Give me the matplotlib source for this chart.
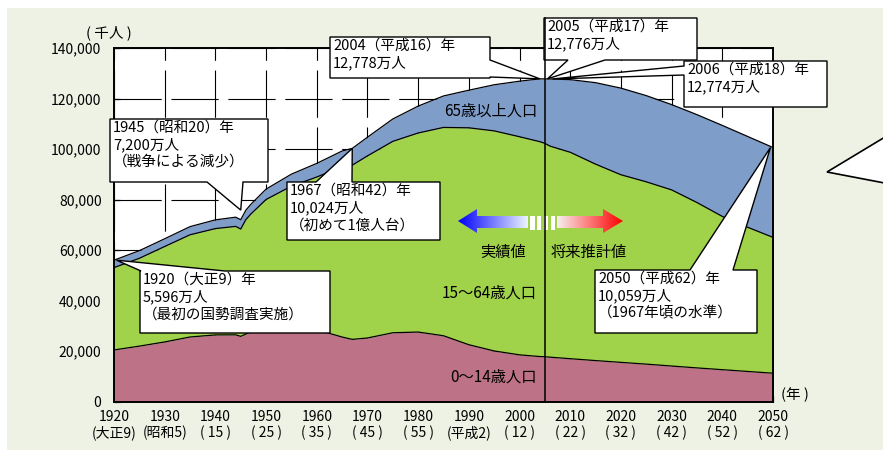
import numpy as np
import matplotlib
matplotlib.use('Agg')
import matplotlib.pyplot as plt
from matplotlib.patches import Polygon, Rectangle

plt.rcParams['font.family'] = ['Noto Sans CJK JP', 'DejaVu Sans']
plt.rcParams['lines.scale_dashes'] = False

# ---------------- data (thousands of people) ----------------
years = [1920, 1925, 1930, 1935, 1940, 1944, 1945, 1946, 1947, 1950, 1955, 1960,
         1965, 1967, 1970, 1975, 1980, 1985, 1990, 1995, 2000, 2004, 2005, 2006,
         2010, 2015, 2020, 2025, 2030, 2035, 2040, 2045, 2050]
pop_0_14 = [20416, 21924, 23579, 25545, 26369, 26400, 25800, 26700, 27573, 29786, 30123, 28434,
            25529, 24600, 25153, 27221, 27507, 26033, 22486, 20014, 18472, 17800, 17740, 17550,
            16950, 16200, 15500, 14800, 14050, 13300, 12600, 11900, 11200]
pop_15_64 = [32605, 34792, 37807, 40484, 42110, 42950, 42500, 45300, 46681, 50220, 55167, 60469,
             67444, 69003, 72119, 75807, 78835, 82506, 85904, 87165, 86380, 85100, 84500, 83600,
             81750, 77800, 74300, 72200, 69750, 65500, 60700, 57100, 53800]
pop_65_over = [2941, 3021, 3064, 3225, 3454, 3650, 3700, 3750, 3847, 4109, 4747, 5398,
               6236, 6640, 7393, 8865, 10647, 12468, 14895, 18261, 22005, 24887, 25520, 26590,
               28773, 32266, 34307, 34136, 33780, 34802, 36038, 35960, 35593]

x_ticks = list(range(1920, 2051, 10))
era_labels = ['(大正9)', '(昭和5)', '( 15 )', '( 25 )', '( 35 )', '( 45 )', '( 55 )',
              '(平成2)', '( 12 )', '( 22 )', '( 32 )', '( 42 )', '( 52 )', '( 62 )']
y_ticks = [0, 20000, 40000, 60000, 80000, 100000, 120000, 140000]
y_tick_labels = ['0', '20,000', '40,000', '60,000', '80,000', '100,000', '120,000', '140,000']

group_labels = ['0～14歳人口', '15～64歳人口', '65歳以上人口']

# callouts: (text, point year, point value)
callout_1920 = ('1920（大正9）年\n5,596万人\n（最初の国勢調査実施）', 1920.5, 55963)
callout_1945 = ('1945（昭和20）年\n7,200万人\n（戦争による減少）', 1945, 75800)
callout_1967 = ('1967（昭和42）年\n10,024万人\n（初めて1億人台）', 1967, 100243)
callout_2004 = ('2004（平成16）年\n12,778万人', 2004, 127787)
callout_2005 = ('2005（平成17）年\n12,776万人', 2005.5, 127760)
callout_2006 = ('2006（平成18）年\n12,774万人', 2006.5, 127740)
callout_2050 = ('2050（平成62）年\n10,059万人\n（1967年頃の水準）', 2049.5, 100593)

# ---------------- style ----------------
BG = '#EDF2E5'
PINK = '#BE7288'
GREEN = '#A0D24A'
BLUE = '#7F9DC9'

W, H = 883, 450
AX_L, AX_R, AX_T, AX_B = 114, 773, 48, 401.5

fig = plt.figure(figsize=(W / 100, H / 100), dpi=100)
fig.patch.set_facecolor('white')
fig.add_artist(Rectangle((7 / W, 0), 1, 1 - 8 / H, transform=fig.transFigure,
                         facecolor=BG, edgecolor='none', zorder=-10))

ax = fig.add_axes([AX_L / W, 1 - AX_B / H, (AX_R - AX_L) / W, (AX_B - AX_T) / H])
ax.set_facecolor('white')
ax.set_xlim(1920, 2050)
ax.set_ylim(0, 140000)


def P(px, py):
    """pixel (from top-left of figure) -> data coords"""
    return (1920 + (px - AX_L) / (AX_R - AX_L) * 130,
            (AX_B - py) / (AX_B - AX_T) * 140000)


# grid
ax.set_axisbelow(True)
ax.grid(True, color='black', linewidth=0.8, linestyle=(0, (34, 7)))

c1 = np.array(pop_0_14)
c2 = c1 + np.array(pop_15_64)
c3 = c2 + np.array(pop_65_over)
ax.fill_between(years, 0, c1, color=PINK, lw=0, zorder=2)
ax.fill_between(years, c1, c2, color=GREEN, lw=0, zorder=2)
ax.fill_between(years, c2, c3, color=BLUE, lw=0, zorder=2)
for c in (c1, c2, c3):
    ax.plot(years, c, color='black', lw=0.9, zorder=3)

# ticks & spines
ax.set_xticks(x_ticks)
ax.set_xticklabels([f'{y}\n{e}' for y, e in zip(x_ticks, era_labels)], fontsize=10,
                   linespacing=1.15)
ax.set_yticks(y_ticks)
ax.set_yticklabels(y_tick_labels, fontsize=10)
ax.tick_params(axis='x', direction='in', length=4, width=0.9, pad=6)
ax.tick_params(axis='y', direction='in', length=4, width=0.9, pad=9)
for s in ax.spines.values():
    s.set_linewidth(1.4)
    s.set_zorder(5)

fig.text(109 / W, 1 - 33 / H, '( 千人 )', ha='center', va='center', fontsize=10.5)
fig.text(795 / W, 1 - 395 / H, '(年 )', ha='center', va='center', fontsize=10.5)

# group labels
lab_pos = [(537, 377), (537, 293), (537, 111)]
for t, (px, py) in zip(group_labels, lab_pos):
    x, y = P(px, py)
    ax.text(x, y, t, ha='right', va='center', fontsize=11, zorder=6)

# 2005 divider line
ax.plot([2005, 2005], [0, P(0, 18)[1]], color='black', lw=1.1, clip_on=False, zorder=8)


# callouts
def callout(info, box, side, a, b, fs=10.5):
    text, tx, ty = info
    x0, y0, x1, y1 = box
    if side == 'top':
        pts = [(x0, y0), (a, y0), None, (b, y0), (x1, y0), (x1, y1), (x0, y1)]
    elif side == 'bottom':
        pts = [(x0, y0), (x1, y0), (x1, y1), (b, y1), None, (a, y1), (x0, y1)]
    elif side == 'right':
        pts = [(x0, y0), (x1, y0), (x1, a), None, (x1, b), (x1, y1), (x0, y1)]
    else:
        pts = [(x0, y0), (x1, y0), (x1, y1), (x0, y1), (x0, b), None, (x0, a)]
    verts = [(tx, ty) if p is None else P(*p) for p in pts]
    ax.add_patch(Polygon(verts, closed=True, facecolor='white', edgecolor='black',
                         lw=1.0, clip_on=False, zorder=7))
    x, y = P(x0 + 3, y0 + 2)
    ax.text(x, y, text, ha='left', va='top', fontsize=fs, linespacing=1.25,
            zorder=9, clip_on=False)


callout(callout_1920, (140, 271, 330, 333), 'top', 141, 225)
callout(callout_1945, (110, 119, 268, 182), 'bottom', 207, 243)
callout(callout_1967, (287, 182, 440, 240), 'top', 316, 352)
callout(callout_2004, (330, 37, 490, 78), 'right', 60, 77)
callout(callout_2006, (684, 61, 827, 107), 'left', 66, 75)
callout(callout_2005, (544, 18, 697, 60), 'bottom', 568, 605)
callout(callout_2050, (595, 270, 757, 333), 'top', 690, 733)

# partial callout pointer at right edge
ax.add_patch(Polygon([P(827, 172), P(895, 131), P(895, 185)], closed=True,
                     facecolor='white', edgecolor='black', lw=1.2, clip_on=False, zorder=7))


# gradient arrows
def grad_arrow(pts_px, xl, xr, c_left, c_right):
    poly = Polygon([P(*p) for p in pts_px], closed=True, facecolor='none',
                   edgecolor='none', transform=ax.transData)
    ax.add_patch(poly)
    n = 200
    t = np.linspace(0, 1, n)[None, :, None]
    grad = (1 - t) * np.array(c_left)[None, None, :] + t * np.array(c_right)[None, None, :]
    xa, ya = P(xl, 240)
    xb, yb = P(xr, 200)
    im = ax.imshow(grad, extent=[xa, xb, ya, yb], aspect='auto', zorder=6,
                   interpolation='bilinear', origin='lower')
    im.set_clip_path(poly)


grad_arrow([(458, 221), (477, 209), (477, 216), (528, 216), (528, 228), (477, 228), (477, 233)],
           458, 528, (0.0, 0.0, 1.0), (0.93, 0.96, 1.0))
grad_arrow([(557, 216), (603, 216), (603, 209), (623, 221), (603, 233), (603, 228), (557, 228)],
           557, 623, (0.97, 0.94, 0.94), (1.0, 0.0, 0.0))
for xa_, xb_ in [(530, 535), (537, 541), (544, 548), (550.5, 555)]:
    pa = P(xa_, 230)
    pb = P(xb_, 216)
    ax.add_patch(Rectangle(pa, pb[0] - pa[0], pb[1] - pa[1], facecolor='white',
                           edgecolor='none', zorder=6))

ax.set_xlim(1920, 2050)
ax.set_ylim(0, 140000)

xx, yy = P(503, 252)
ax.text(xx, yy, '実績値', ha='center', va='center', fontsize=11, zorder=9)
xx, yy = P(589, 252)
ax.text(xx, yy, '将来推計値', ha='center', va='center', fontsize=11, zorder=9)

fig.savefig('out.png', dpi=100, facecolor=fig.get_facecolor())
